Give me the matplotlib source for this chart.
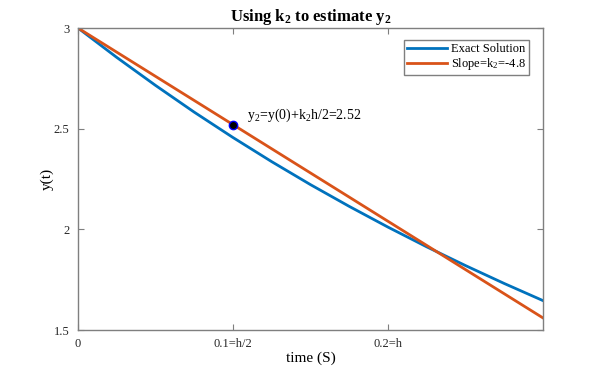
import matplotlib
matplotlib.use('Agg')
import matplotlib.pyplot as plt

plt.rcParams['font.family'] = ['Liberation Serif', 'DejaVu Serif']
plt.rcParams['mathtext.fontset'] = 'custom'
plt.rcParams['mathtext.rm'] = 'Liberation Serif'
plt.rcParams['mathtext.it'] = 'Liberation Serif'
plt.rcParams['mathtext.bf'] = 'Liberation Serif:bold'

# exact solution
t_exact = [0, 0.025, 0.05, 0.075, 0.1, 0.125, 0.15, 0.175, 0.2, 0.225, 0.25, 0.275, 0.3]
y_exact = [3.0, 2.854, 2.715, 2.582, 2.456, 2.336, 2.222, 2.114, 2.011, 1.913, 1.820, 1.731, 1.646]

# slope line k2 = -4.8
t_slope = [0, 0.3]
y_slope = [3.0, 1.56]

# estimated point
t_pt = 0.1
y_pt = 2.52

xticks = [0, 0.1, 0.2]
xtick_labels = ['0', '0.1=h/2', '0.2=h']
yticks = [1.5, 2, 2.5, 3]
ytick_labels = ['1.5', '2', '2.5', '3']

blue = '#0072BD'
orange = '#D95319'
axcol = '#7f7f7f'

fig = plt.figure(figsize=(6, 3.71), dpi=100)
ax = fig.add_axes([0.13, 0.1105, 0.775, 0.814])

ax.plot(t_exact, y_exact, color=blue, lw=2, label='Exact Solution')
ax.plot(t_slope, y_slope, color=orange, lw=2, label=r'Slope=k$_\mathregular{2}$=-4.8')
ax.plot(t_pt, y_pt, 'o', color='black', markeredgecolor='blue', markersize=6)
ax.text(0.109, y_pt + 0.005, r'y$_\mathregular{2}$=y(0)+k$_\mathregular{2}$h/2=2.52', fontsize=10, va='bottom')

ax.set_xlim(0, 0.3)
ax.set_ylim(1.5, 3)
ax.set_xticks(xticks)
ax.set_xticklabels(xtick_labels, fontsize=9)
ax.set_yticks(yticks)
ax.set_yticklabels(ytick_labels, fontsize=9)
ax.tick_params(direction='in', top=True, right=True, length=4, color=axcol, labelcolor='#262626', pad=6)
for s in ax.spines.values():
    s.set_color(axcol)
    s.set_linewidth(1)

ax.set_xlabel('time (S)', fontsize=11, labelpad=1)
ax.set_ylabel('y(t)', fontsize=11, labelpad=0)
ax.set_title(r'Using k$_\mathregular{2}$ to estimate y$_\mathregular{2}$', fontsize=12, fontweight='bold', pad=5)

leg = ax.legend(loc='upper right', fontsize=9, fancybox=False, framealpha=1,
                borderpad=0.25, handlelength=3.2, handletextpad=0.3, labelspacing=0.05,
                bbox_to_anchor=(0.983, 0.98))
leg.get_frame().set_edgecolor(axcol)
leg.get_frame().set_linewidth(1)

fig.savefig('out.png', dpi=100)
